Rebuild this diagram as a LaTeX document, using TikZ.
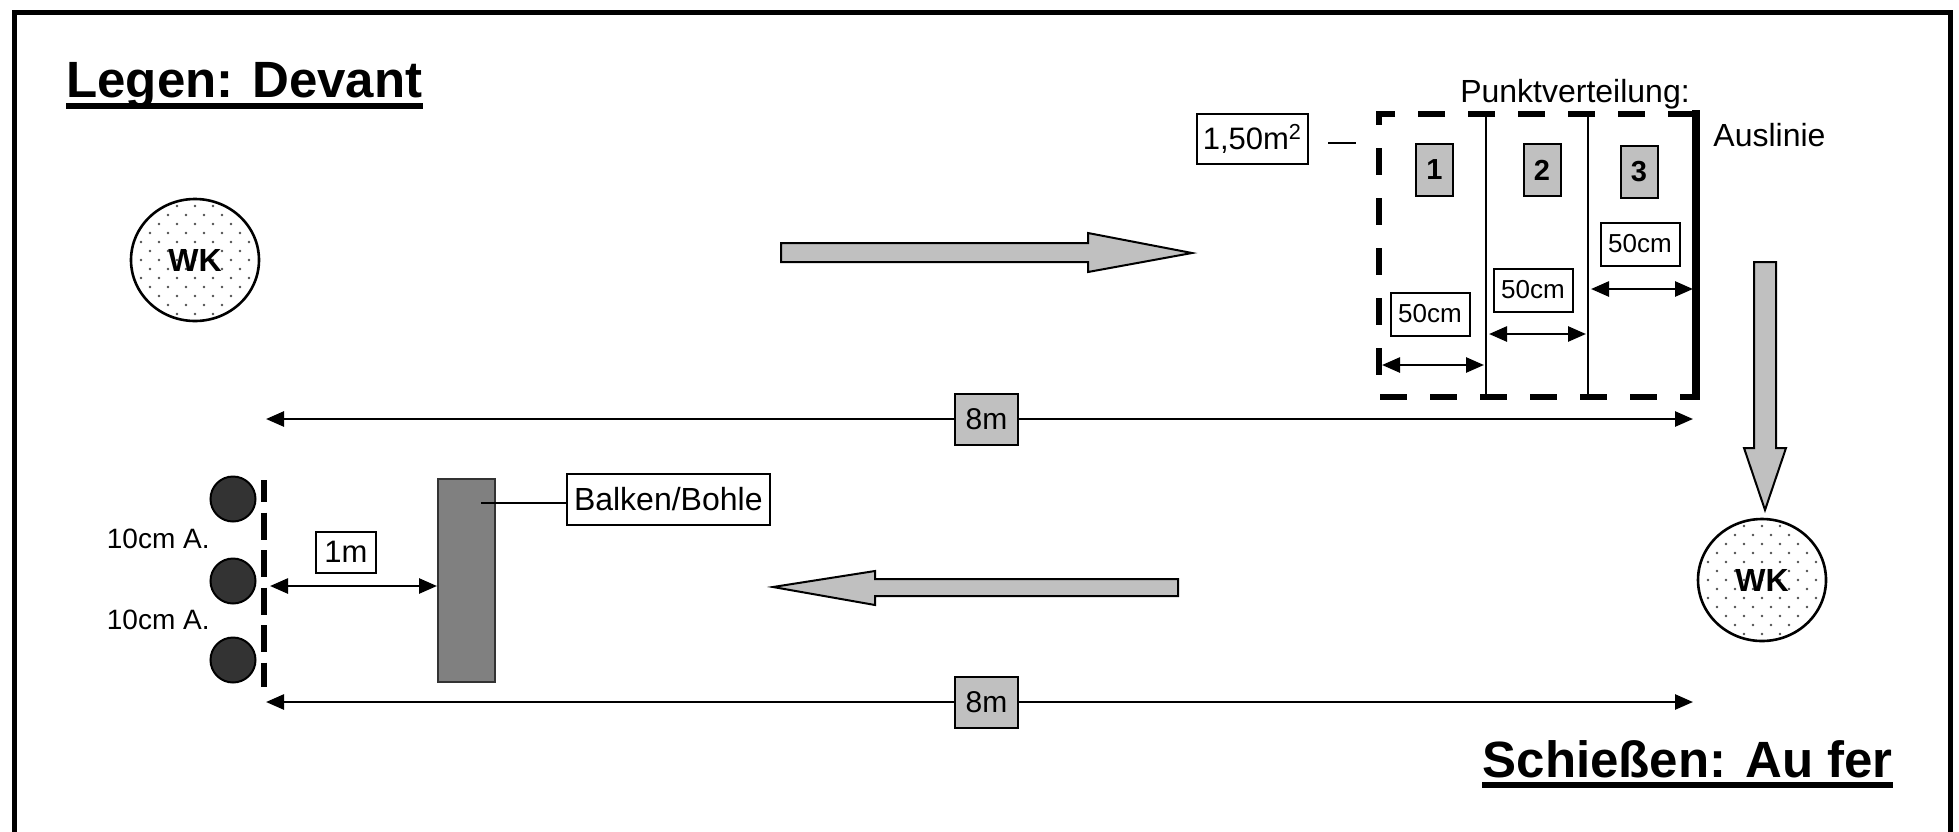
\documentclass[tikz,border=0pt]{standalone}
\usepackage{fontspec}
\setmainfont{Liberation Sans}
\usetikzlibrary{arrows.meta,shapes.geometric}
\definecolor{lgray}{HTML}{C0C0C0}
\definecolor{mgray}{HTML}{808080}
\definecolor{dgray}{HTML}{333333}
\definecolor{dotc}{HTML}{505050}
\newcommand\setfs[1]{\fontsize{#1}{#1}\selectfont}
\begin{document}
\begin{tikzpicture}[x=0.5pt,y=-0.5pt,
  titletext/.style={inner sep=0pt, font=\bfseries\setfs{25.5pt}},
  lbl/.style={inner sep=0pt, font=\setfs{16pt}},
  wk/.style={ellipse, draw, line width=1.3pt, minimum width=64pt, minimum height=61pt, inner sep=0pt, font=\bfseries\setfs{16pt}},
  bigarrow/.style={draw, fill=lgray, line width=1pt, line join=miter},
  dim/.style={line width=1.3pt, {Triangle[length=9pt,width=7.5pt]}-{Triangle[length=9pt,width=7.5pt]}},
  txtbox/.style={draw, line width=1pt, fill=white, inner sep=3pt, font=\setfs{15.5pt}},
  smbox/.style={draw, line width=1pt, fill=white, minimum width=39.5pt, minimum height=21.5pt, inner sep=0pt, font=\setfs{13pt}},
  gbox/.style={draw, line width=1pt, fill=lgray, minimum width=31.5pt, minimum height=25.5pt, inner sep=0pt, font=\setfs{15pt}},
  numbox/.style={draw, line width=1pt, fill=lgray, minimum width=18.5pt, minimum height=26pt, inner sep=0pt, font=\bfseries\setfs{14.5pt}},
  ball/.style={circle, draw, line width=1pt, fill=dgray, minimum size=22.5pt, inner sep=0pt},
  dashbox/.style={line width=2.75pt, dash pattern=on 13.5pt off 11.5pt},
  thinline/.style={line width=1pt}
]
\useasboundingbox (0,0) rectangle (1959,831);
% frame
\begin{scope}
\clip (0,0) rectangle (1959,831);
\draw[line width=2.5pt] (14.5,860) -- (14.5,12.5) -- (1950,12.5) -- (1950,860);
\end{scope}

% titles
\node[titletext, anchor=base west] (t1) at (66,97) {Legen: Devant};
\draw[line width=2.75pt] ([yshift=-4.5pt]t1.base west) -- ([yshift=-4.5pt]t1.base east);
\node[titletext, anchor=base east] (t2) at (1893,777) {Schießen: Au fer};
\draw[line width=2.75pt] ([yshift=-4pt]t2.base west) -- ([yshift=-4pt]t2.base east);

% WK circles with dots
\begin{scope}
\clip (195,260) ellipse [x radius=64, y radius=61];
\foreach \j in {-7,...,7}{\foreach \i in {-4,...,4}{
  \fill[dotc] ({195+\i*18+mod(abs(\j),2)*9},{260+\j*9}) circle[radius=1.3];}}
\end{scope}
\node[wk] (wk1) at (195,260) {WK};
\begin{scope}
\clip (1762,580) ellipse [x radius=64, y radius=61];
\foreach \j in {-7,...,7}{\foreach \i in {-4,...,4}{
  \fill[dotc] ({1762+\i*18+mod(abs(\j),2)*9},{580+\j*9}) circle[radius=1.3];}}
\end{scope}
\node[wk] (wk2) at (1762,580) {WK};

% big grey arrows
\draw[bigarrow] (781,243) -- (1088,243) -- (1088,233) -- (1192,253) -- (1088,272) -- (1088,262) -- (781,262) -- cycle;
\draw[bigarrow] (1178,579) -- (875,579) -- (875,571) -- (773,587) -- (875,605) -- (875,596) -- (1178,596) -- cycle;
\draw[bigarrow] (1754,262) -- (1776,262) -- (1776,448) -- (1786,448) -- (1765,510) -- (1744,448) -- (1754,448) -- cycle;

% scoring field
\node[lbl, anchor=base] (pv) at (1575,102) {Punktverteilung:};
\node[lbl, anchor=base west] (aus) at (1713,146) {Auslinie};
\draw[dashbox] (1695,114) -- (1379,114) -- (1379,397) -- (1695,397);
\draw[line width=4pt] (1696,110) -- (1696,400);
\draw[thinline] (1486,114) -- (1486,397);
\draw[thinline] (1588,114) -- (1588,397);
\node[txtbox, anchor=east, minimum height=25pt] (area) at (1309,139) {1,50m\textsuperscript{2}};
\coordinate (areadash) at (1356,143);
\draw[thinline] ([xshift=9.5pt]area.east |- areadash) -- (areadash);

\node[numbox] (n1) at (1434.5,170) {1};
\node[numbox] (n2) at (1542,170) {2};
\node[numbox] (n3) at (1639,172) {3};

\node[smbox] (c1) at (1430,314) {50cm};
\node[smbox] (c2) at (1533,290) {50cm};
\node[smbox] (c3) at (1640,244) {50cm};
\coordinate (a1l) at (1382,365); \coordinate (a1r) at (1484,365);
\coordinate (a2l) at (1489,334); \coordinate (a2r) at (1586,334);
\coordinate (a3l) at (1591,289); \coordinate (a3r) at (1693,289);
\draw[dim] (a1l) -- (a1r);
\draw[dim] (a2l) -- (a2r);
\draw[dim] (a3l) -- (a3r);

% 8m distances
\coordinate (m1l) at (266,419); \coordinate (m1r) at (1693,419);
\draw[dim] (m1l) -- (m1r);
\node[gbox] (m1) at (986.5,419.5) {8m};
\coordinate (m2l) at (266,702); \coordinate (m2r) at (1693,702);
\draw[dim] (m2l) -- (m2r);
\node[gbox] (m2) at (986.5,702.5) {8m};

% throwing line with balls
\draw[line width=3pt, dash pattern=on 13.5pt off 5.25pt, dash phase=2.5pt] (264,480) -- (264,687);
\node[ball] (b1) at (233,499) {};
\node[ball] (b2) at (233,581) {};
\node[ball] (b3) at (233,660) {};
\node[lbl, anchor=base east, font=\setfs{14pt}] (d1) at (210,548) {10cm A.};
\node[lbl, anchor=base east, font=\setfs{14pt}] (d2) at (210,629) {10cm A.};

% beam
\node[draw=dgray, line width=1pt, fill=mgray, minimum width=28.5pt, minimum height=101.5pt, inner sep=0pt] (beam) at (466.5,580.5) {};
\coordinate (bl) at (270,586);
\draw[dim] (bl) -- (beam.west |- bl);
\node[txtbox, minimum width=30pt, minimum height=20.5pt, inner sep=0pt] (onem) at (346,552) {1m};
\node[txtbox, anchor=west, minimum height=25.5pt, inner xsep=3.5pt, font=\setfs{16pt}] (bb) at (566,499.5) {Balken/Bohle};
\coordinate (beamin) at (481,503);
\draw[thinline] (beamin) -- (bb.west |- beamin);
\end{tikzpicture}
\end{document}
